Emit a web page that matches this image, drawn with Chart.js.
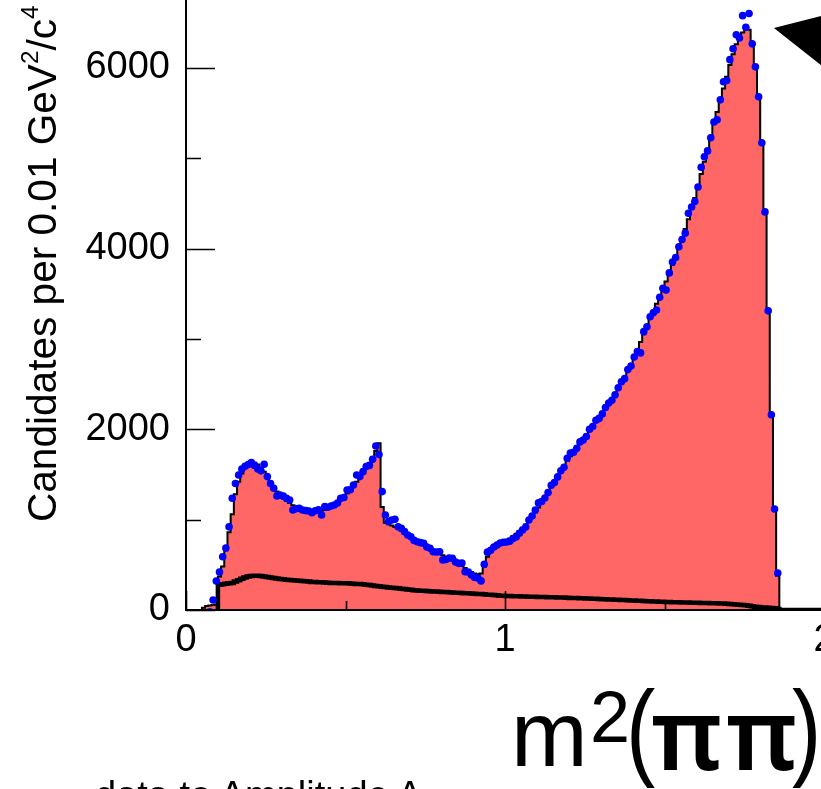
<!DOCTYPE html>
<html>
<head>
<meta charset="utf-8">
<script src="https://cdn.jsdelivr.net/npm/chart.js@4.4.0/dist/chart.umd.min.js"></script>
<style>
  html, body { margin: 0; padding: 0; width: 821px; height: 789px; overflow: hidden; background: #fff; }
  #wrap { position: absolute; left: 0; top: -60px; width: 900px; height: 849px; }
  .txt { position: absolute; font-family: "Liberation Sans", Arial, Helvetica, sans-serif; color: #000; white-space: nowrap; line-height: 1; }
  #ytitle { left: 22px; top: 522px; font-size: 40.6px; transform-origin: 0 0; transform: rotate(-90deg); }
  #ytitle sup { font-size: 0.6em; vertical-align: 0; position: relative; top: -0.75em; }
  #xt-m { left: 511px; top: 688px; font-size: 92px; }
  #xt-2 { left: 590px; top: 681px; font-size: 72px; }
  #xt-l { left: 626px; top: 692px; font-size: 88px; transform-origin: 0 75px; transform: scaleY(1.22); }
  #xt-pi { left: 651px; top: 681px; font-size: 100px; font-family: "Noto Sans", sans-serif; font-weight: 600; letter-spacing: 4px; }
  #xt-r { left: 792px; top: 692px; font-size: 88px; transform-origin: 0 75px; transform: scaleY(1.22); }
  #caption { left: 95px; top: 776px; font-size: 38px; }
</style>
</head>
<body>
<div id="wrap"><canvas id="c"></canvas></div>
<div class="txt" id="ytitle">Candidates per 0.01 GeV<sup>2</sup>/c<sup>4</sup></div>
<div class="txt" id="xt-m">m</div>
<div class="txt" id="xt-2">2</div>
<div class="txt" id="xt-l">(</div>
<div class="txt" id="xt-pi">ππ</div>
<div class="txt" id="xt-r">)</div>
<div class="txt" id="caption">data to Amplitude A</div>
<script>
// m²(ππ) spectrum in 0.01 GeV²/c⁴ bins starting at 0
const BIN_LOW = 0.0;
const BIN_WIDTH = 0.01;

// total fit model (histogram), per bin
const fitCounts = [
  0, 0, 0, 0, 0, 25, 45, 50, 55, 60,
  370, 480, 660, 860, 1060, 1280, 1420, 1510, 1570, 1605,
  1625, 1630, 1610, 1570, 1530, 1480, 1420, 1360, 1310, 1270,
  1240, 1210, 1185, 1160, 1140, 1125, 1110, 1100, 1095, 1090,
  1090, 1095, 1100, 1110, 1125, 1140, 1160, 1185, 1215, 1250,
  1290, 1330, 1375, 1420, 1470, 1520, 1570, 1625, 1690, 1760,
  1845, 1140, 965, 950, 935, 918, 900, 878, 855, 830,
  805, 782, 760, 740, 720, 700, 680, 660, 642, 625,
  605, 585, 568, 550, 530, 510, 488, 465, 440, 420,
  405, 395, 405, 480, 590, 650, 690, 720, 740, 755,
  765, 790, 815, 845, 875, 910, 945, 985, 1030, 1080,
  1135, 1195, 1255, 1315, 1375, 1430, 1485, 1540, 1595, 1650,
  1700, 1750, 1800, 1845, 1890, 1940, 1990, 2040, 2085, 2130,
  2180, 2230, 2280, 2335, 2390, 2450, 2510, 2575, 2645, 2720,
  2800, 2880, 2965, 3050, 3140, 3230, 3310, 3390, 3470, 3550,
  3635, 3725, 3820, 3915, 4010, 4110, 4215, 4325, 4440, 4560,
  4690, 4825, 4960, 5100, 5240, 5380, 5510, 5640, 5770, 5900,
  6030, 6150, 6260, 6340, 6390, 6430, 6420, 6250, 6000, 5680,
  5170, 4400, 3300, 2150, 1100, 380, 0
];

// measured candidates, per bin (null = no entry drawn)
const dataCounts = [
  null, null, null, null, null, null, null, -20, 110, 320,
  420, 590, 685, 920, 1236, 1400, 1494, 1560, 1590, 1610,
  1632, 1600, 1560, 1540, 1612, 1476, 1400, 1347, 1262, 1273,
  1260, 1236, 1218, 1107, 1120, 1126, 1107, 1100, 1096, 1077,
  1099, 1110, 1052, 1144, 1137, 1150, 1162, 1184, 1236, 1245,
  1328, 1330, 1384, 1494, 1476, 1531, 1587, 1600, 1668, 1815,
  1720, 1310, 1052, 978, 996, 1004, 922, 904, 867, 830,
  811, 770, 756, 745, 738, 697, 683, 645, 642, 645,
  553, 560, 575, 572, 530, 516, 520, 424, 420, 387,
  360, 354, 322, 505, 640, 660, 697, 720, 742, 750,
  753, 760, 790, 808, 850, 886, 919, 996, 1040, 1107,
  1185, 1200, 1240, 1300, 1380, 1410, 1473, 1540, 1580, 1680,
  1738, 1745, 1790, 1860, 1880, 1920, 2000, 2030, 2100, 2120,
  2170, 2240, 2290, 2320, 2380, 2460, 2525, 2560, 2660, 2700,
  2800, 2860, 2845, 3080, 3135, 3245, 3290, 3320, 3460, 3560,
  3540, 3730, 3850, 3900, 4020, 4100, 4170, 4390, 4460, 4520,
  4680, 4900, 5015, 5080, 5225, 5400, 5425, 5645, 5845, 5860,
  6090, 6210, 6365, 6330, 6577, 6448, 6600, 6265, 6010, 5680,
  5170, 4405, 3310, 2160, 1118, 410, null
];

// background component, per bin
const bkgCounts = [
  null, null, null, null, null, null, null, null, null, 0,
  280, 285, 290, 295, 300, 315, 330, 345, 360, 370,
  375, 378, 378, 376, 372, 366, 360, 354, 348, 343,
  339, 335, 332, 329, 326, 323, 320, 317, 314, 311,
  310, 308, 306, 304, 302, 300, 299, 298, 297, 296,
  295, 293, 291, 289, 287, 284, 280, 276, 271, 266,
  262, 258, 254, 250, 246, 243, 240, 236, 232, 228,
  224, 218, 216, 214, 212, 210, 208, 206, 204, 202,
  200, 198, 196, 194, 192, 190, 188, 186, 184, 182,
  180, 178, 176, 173, 170, 168, 165, 162, 159, 157,
  155, 154, 153, 152, 151, 150, 149, 148, 147, 146,
  145, 144, 143, 142, 141, 140, 139, 138, 137, 136,
  134, 133, 132, 131, 130, 128, 127, 125, 124, 122,
  120, 119, 117, 116, 114, 113, 111, 110, 108, 106,
  105, 103, 101, 100, 98, 97, 95, 94, 92, 91,
  89, 88, 87, 86, 85, 84, 83, 82, 81, 80,
  79, 78, 78, 77, 76, 75, 74, 73, 71, 69,
  67, 65, 62, 59, 56, 52, 48, 42, 36, 32,
  29, 27, 25, 22, 18, 12, 0, 0, 0, 0,
  0, 0, 0, 0, 0, 0, 0, 0, 0, 0
];

// axis ticks
const xTickValues = [0, 1, 2];
const xMinorTicks = [0.5, 1.5];
const yTickValues = [0, 2000, 4000, 6000];
const yMinorTicks = [1000, 3000, 5000];

// pointer marker outline (x, y)
const markerX = [1.843, 2.0, 2.0, 1.843];
const markerY = [6440, 6582, 6004, 6440];

const binCenter = i => BIN_LOW + (i + 0.5) * BIN_WIDTH;
const toXY = arr => arr.map((v, i) => ({ x: binCenter(i), y: v }));

const frameTicks = {
  id: 'frameTicks',
  afterDatasetsDraw(chart) {
    const { ctx, chartArea: a, scales: { x, y } } = chart;
    ctx.save();
    ctx.strokeStyle = '#000';
    ctx.lineCap = 'butt';
    ctx.lineWidth = 1.6;
    ctx.beginPath();
    yTickValues.forEach(v => { const p = Math.round(y.getPixelForValue(v)) + 0.5; ctx.moveTo(a.left, p); ctx.lineTo(a.left + 29, p); });
    yMinorTicks.forEach(v => { const p = Math.round(y.getPixelForValue(v)) + 0.5; ctx.moveTo(a.left, p); ctx.lineTo(a.left + 15, p); });
    xTickValues.forEach(v => { const p = Math.round(x.getPixelForValue(v)) + 0.5; ctx.moveTo(p, a.bottom); ctx.lineTo(p, a.bottom - 19); });
    xMinorTicks.forEach(v => { const p = Math.round(x.getPixelForValue(v)) + 0.5; ctx.moveTo(p, a.bottom); ctx.lineTo(p, a.bottom - 9); });
    ctx.stroke();
    ctx.lineWidth = 2;
    ctx.beginPath();
    ctx.moveTo(a.left, a.top - 2);
    ctx.lineTo(a.left, a.bottom);
    ctx.lineTo(a.right + 2, a.bottom);
    ctx.stroke();
    ctx.restore();
  }
};

Chart.defaults.font.family = '"Liberation Sans", Arial, Helvetica, sans-serif';
Chart.defaults.color = '#000';

new Chart(document.getElementById('c'), {
  type: 'line',
  data: {
    datasets: [
      {
        label: 'Data',
        data: toXY(dataCounts),
        showLine: false,
        pointRadius: 3.8,
        pointBorderWidth: 0,
        pointBackgroundColor: '#0000ff',
        pointBorderColor: '#0000ff',
        order: 0
      },
      {
        label: 'Background',
        data: toXY(bkgCounts),
        stepped: 'middle',
        borderColor: '#000',
        borderWidth: 4.5,
        pointRadius: 0,
        fill: false,
        order: 1
      },
      {
        label: 'Fit',
        data: toXY(fitCounts),
        stepped: 'middle',
        borderColor: '#000',
        borderWidth: 2,
        backgroundColor: 'rgb(255,102,102)',
        pointRadius: 0,
        fill: 'origin',
        order: 2
      },
      {
        label: 'Marker',
        data: markerX.map((v, i) => ({ x: v, y: markerY[i] })),
        borderWidth: 0,
        borderColor: '#000',
        backgroundColor: '#000',
        pointRadius: 0,
        fill: 'shape',
        order: 3
      }
    ]
  },
  options: {
    responsive: true,
    maintainAspectRatio: false,
    animation: false,
    layout: { padding: { left: 0, right: 76, top: 60, bottom: 0 } },
    plugins: { legend: { display: false }, tooltip: { enabled: false } },
    scales: {
      x: {
        type: 'linear',
        min: 0,
        max: 2,
        grid: { display: false, drawTicks: false },
        border: { display: false },
        afterBuildTicks: s => { s.ticks = xTickValues.map(v => ({ value: v })); },
        afterFit: s => { s.height = 179; },
        ticks: { padding: 8, font: { size: 38 }, maxRotation: 0, autoSkip: false, callback: v => String(v) }
      },
      y: {
        type: 'linear',
        min: 0,
        max: 6750,
        grid: { display: false, drawTicks: false },
        border: { display: false },
        afterBuildTicks: s => { s.ticks = yTickValues.map(v => ({ value: v })); },
        afterFit: s => { s.width = 186; },
        ticks: { padding: 16, font: { size: 38 }, autoSkip: false, callback: v => String(v) }
      }
    }
  },
  plugins: [frameTicks]
});
</script>
</body>
</html>
